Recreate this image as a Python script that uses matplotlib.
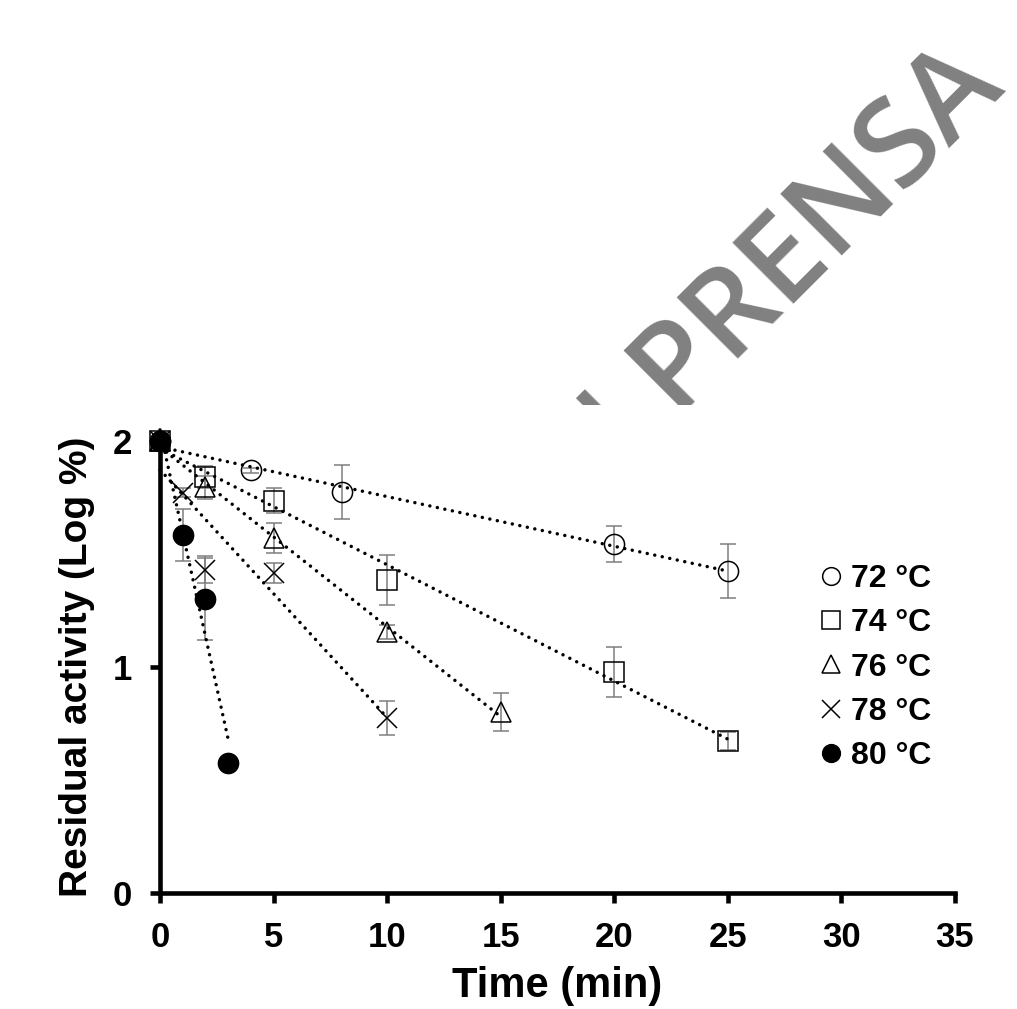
import matplotlib.pyplot as plt
import numpy as np
from matplotlib.patches import Rectangle

plt.rcParams['font.family'] = ['Liberation Sans', 'DejaVu Sans']
plt.rcParams['font.weight'] = 'bold'

# residual activity (log %) vs time (min), one set per temperature
t72 = [0, 4, 8, 20, 25]
a72 = [2.0, 1.87, 1.775, 1.545, 1.425]
e72 = [0, 0.01, 0.12, 0.08, 0.12]

t74 = [0, 2, 5, 10, 20, 25]
a74 = [2.0, 1.84, 1.735, 1.385, 0.978, 0.672]
e74 = [0, 0.05, 0.055, 0.11, 0.11, 0.04]

t76 = [0, 2, 5, 10, 15]
a76 = [2.0, 1.795, 1.57, 1.155, 0.80]
e76 = [0, 0.05, 0.065, 0.03, 0.085]

t78 = [0, 1, 2, 5, 10]
a78 = [2.0, 1.77, 1.43, 1.415, 0.775]
e78 = [0, 0.02, 0.06, 0.045, 0.075]

t80 = [0, 1, 2, 3]
a80 = [2.0, 1.585, 1.30, 0.575]
e80 = [0, 0.115, 0.18, 0.01]

labels = ["72 °C", "74 °C", "76 °C", "78 °C", "80 °C"]
series = [(t72, a72, e72), (t74, a74, e74), (t76, a76, e76),
          (t78, a78, e78), (t80, a80, e80)]
markers = [
    dict(marker="o", mfc="none"),
    dict(marker="s", mfc="none"),
    dict(marker="^", mfc="none"),
    dict(marker="x"),
    dict(marker="o", mfc="black"),
]

fig = plt.figure(figsize=(10.17, 10.09), dpi=100)

# watermark behind the chart
fig.text(0.99, 0.91, "EN PRENSA", rotation=45, rotation_mode="anchor",
         ha="right", va="baseline", color="#808080", fontsize=88,
         fontweight="semibold", family=["Open Sans", "DejaVu Sans"],
         zorder=0)
fig.patches.append(Rectangle((30 / 1017, 0), 1, 1 - 405 / 1009,
                             transform=fig.transFigure, facecolor="white",
                             edgecolor="none", zorder=0.5))

ax = fig.add_axes([0.1573, 0.115, 0.7817, 0.448])
ax.set_zorder(1)

handles = []
for (t, a, e), mk in zip(series, markers):
    ax.errorbar(t, a, yerr=e, fmt="none", ecolor="#7f7f7f", elinewidth=1.1,
                capsize=6, capthick=1.1, clip_on=False, zorder=2)
    ln, = ax.plot(t, a, ls="none", ms=14.5, mec="black", mew=1.1,
                  color="black", clip_on=False, zorder=3, **mk)
    handles.append(ln)
    k, b = np.polyfit(t, a, 1)
    xs = np.array([min(t), max(t)])
    ax.plot(xs, k * xs + b, color="black", lw=2.5,
            ls=(0, (0.01, 2.2)), dash_capstyle="round", zorder=4,
            clip_on=False)

ax.set_xlim(0, 35)
ax.set_ylim(0, 2)
ax.set_xticks(range(0, 36, 5))
ax.set_yticks([0, 1, 2])
ax.spines[["top", "right"]].set_visible(False)
for s in ["left", "bottom"]:
    ax.spines[s].set_linewidth(3.3)
ax.tick_params(width=3.3, length=7, labelsize=25, direction="out")
ax.tick_params(axis="x", pad=13)
ax.tick_params(axis="y", pad=13)

ax.set_xlabel("Time (min)", fontsize=30, fontweight="bold", labelpad=9)
ax.set_ylabel("Residual activity (Log %)", fontsize=28, fontweight="bold",
              labelpad=13)

ax.legend(handles, labels, loc="upper left", bbox_to_anchor=(0.83, 0.728),
          frameon=False, prop={"weight": "bold", "size": 23},
          handlelength=0.72, handletextpad=0.25, labelspacing=0.45,
          borderpad=0, borderaxespad=0, markerscale=0.88)

fig.savefig("out.png", dpi=100)
